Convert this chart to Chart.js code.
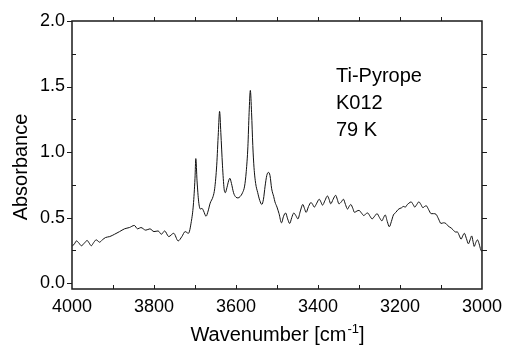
<!DOCTYPE html>
<html>
<head>
<meta charset="utf-8">
<script src="https://cdn.jsdelivr.net/npm/chart.js@4"></script>
<style>
  body { margin: 0; background: #fff; }
  #wrap { width: 509px; height: 345px; position: relative; }
</style>
</head>
<body>
<div id="wrap"><canvas id="spectrum"></canvas></div>
<script>
// IR spectrum (wavenumber in cm-1, absorbance)
const wavenumber = [
    4000, 3994, 3989, 3983, 3977, 3970, 3963, 3958, 3953, 3947, 3941, 3937, 3933, 3926, 3918,
    3908, 3896, 3884, 3872, 3860, 3848, 3840, 3832, 3820, 3810, 3800, 3790, 3782, 3774, 3764,
    3752, 3741, 3732, 3724, 3716, 3709, 3704, 3700, 3698, 3695, 3691, 3687, 3683, 3679, 3673,
    3668, 3663, 3656, 3652, 3647, 3643, 3640, 3637, 3633, 3629, 3626, 3622, 3618, 3615, 3611,
    3606, 3600, 3595, 3590, 3584, 3579, 3575, 3571, 3568, 3565, 3562, 3559, 3556, 3552, 3547,
    3542, 3537, 3533, 3529, 3525, 3521, 3517, 3513, 3508, 3505, 3500, 3495, 3489, 3484, 3479,
    3474, 3469, 3464, 3459, 3454, 3449, 3443, 3437, 3433, 3429, 3423, 3417, 3413, 3409, 3403,
    3397, 3393, 3389, 3383, 3377, 3373, 3369, 3363, 3357, 3353, 3349, 3343, 3338, 3333, 3328,
    3324, 3320, 3315, 3311, 3305, 3300, 3294, 3288, 3284, 3279, 3273, 3268, 3262, 3256, 3250,
    3244, 3240, 3236, 3231, 3226, 3221, 3216, 3210, 3205, 3200, 3196, 3192, 3187, 3182, 3178,
    3173, 3168, 3164, 3159, 3154, 3149, 3144, 3140, 3136, 3130, 3124, 3118, 3112, 3106, 3100,
    3094, 3088, 3084, 3080, 3075, 3070, 3065, 3060, 3055, 3051, 3047, 3043, 3038, 3033, 3029,
    3025, 3022, 3019, 3015, 3011, 3007, 3003, 3000
];
const absorbance = [
    0.28, 0.30, 0.322, 0.305, 0.285, 0.305, 0.325, 0.305, 0.285, 0.31, 0.33, 0.322, 0.312, 0.33, 0.348,
    0.355, 0.373, 0.393, 0.414, 0.424, 0.44, 0.414, 0.424, 0.404, 0.414, 0.393, 0.398, 0.373, 0.398, 0.355,
    0.38, 0.322, 0.355, 0.393, 0.38, 0.469, 0.596, 0.80, 0.95, 0.78, 0.62, 0.565, 0.57, 0.55, 0.51,
    0.55, 0.61, 0.66, 0.72, 0.90, 1.15, 1.31, 1.15, 0.90, 0.72, 0.69, 0.73, 0.78, 0.80, 0.76,
    0.69, 0.655, 0.65, 0.66, 0.69, 0.74, 0.85, 1.04, 1.30, 1.47, 1.30, 1.05, 0.88, 0.76, 0.69,
    0.63, 0.60, 0.64, 0.74, 0.82, 0.845, 0.82, 0.72, 0.66, 0.62, 0.58, 0.53, 0.46, 0.51, 0.535,
    0.49, 0.455, 0.50, 0.535, 0.515, 0.49, 0.55, 0.60, 0.57, 0.54, 0.585, 0.615, 0.60, 0.58, 0.61,
    0.64, 0.62, 0.595, 0.63, 0.665, 0.64, 0.605, 0.64, 0.67, 0.64, 0.605, 0.62, 0.64, 0.60, 0.565,
    0.585, 0.60, 0.57, 0.54, 0.55, 0.555, 0.535, 0.515, 0.527, 0.535, 0.51, 0.49, 0.51, 0.53, 0.50,
    0.475, 0.50, 0.52, 0.47, 0.43, 0.47, 0.52, 0.54, 0.56, 0.57, 0.575, 0.585, 0.58, 0.60, 0.61,
    0.62, 0.60, 0.58, 0.60, 0.62, 0.60, 0.575, 0.585, 0.59, 0.56, 0.53, 0.53, 0.525, 0.49, 0.455,
    0.46, 0.455, 0.44, 0.43, 0.42, 0.405, 0.39, 0.39, 0.36, 0.335, 0.36, 0.38, 0.34, 0.30, 0.33,
    0.36, 0.32, 0.28, 0.31, 0.33, 0.30, 0.254, 0.24
];

const xTickValues = [4000, 3800, 3600, 3400, 3200, 3000];
const xMinorValues = [3900, 3800, 3700, 3600, 3500, 3400, 3300, 3200, 3100];
const yTickValues = [0, 0.5, 1.0, 1.5, 2.0];
const yMinorValues = [0.25, 0.5, 0.75, 1.0, 1.25, 1.5, 1.75];
const sampleLabel = ["Ti-Pyrope", "K012", "79 K"];

const FONT = "'Liberation Sans', Arial, Helvetica, sans-serif";
const INK = "#1a1a1a";

// frame, tick marks in and out of the box, labels that Chart.js can't place the same way
const frameAndText = {
    id: "frameAndText",
    afterDraw(chart) {
        const { ctx, chartArea: a, scales: { x, y } } = chart;
        ctx.save();
        ctx.strokeStyle = INK;
        ctx.lineWidth = 1.5;
        ctx.strokeRect(a.left, a.top, a.right - a.left, a.bottom - a.top);

        ctx.lineWidth = 1;
        ctx.beginPath();
        xMinorValues.forEach(v => {
            const px = Math.round(x.getPixelForValue(v)) + 0.5;
            ctx.moveTo(px, a.bottom); ctx.lineTo(px, a.bottom - 4);
            ctx.moveTo(px, a.top); ctx.lineTo(px, a.top - 4);
        });
        yTickValues.forEach(v => {
            const py = Math.round(y.getPixelForValue(v)) + 0.5;
            ctx.moveTo(a.left, py); ctx.lineTo(a.left - 5, py);
        });
        yMinorValues.forEach(v => {
            const py = Math.round(y.getPixelForValue(v)) + 0.5;
            if (v % 0.5 !== 0) { ctx.moveTo(a.left, py); ctx.lineTo(a.left + 4, py); }
            ctx.moveTo(a.right, py); ctx.lineTo(a.right + 5, py);
        });
        ctx.stroke();

        ctx.fillStyle = "#000";
        ctx.textBaseline = "alphabetic";
        ctx.textAlign = "left";
        ctx.font = "20px " + FONT;
        sampleLabel.forEach((t, i) => ctx.fillText(t, 336, 82 + i * 27));

        // y title
        ctx.save();
        ctx.translate(27, 167);
        ctx.rotate(-Math.PI / 2);
        ctx.textAlign = "center";
        ctx.fillText("Absorbance", 0, 0);
        ctx.restore();

        // x title with superscript
        const main = "Wavenumber [cm", sup = "-1", tail = "]";
        ctx.font = "20px " + FONT;
        const w1 = ctx.measureText(main).width;
        const w3 = ctx.measureText(tail).width;
        ctx.font = "13px " + FONT;
        const w2 = ctx.measureText(sup).width;
        let sx = (a.left + a.right) / 2 - (w1 + w2 + w3) / 2;
        const base = 341;
        ctx.font = "20px " + FONT;
        ctx.fillText(main, sx, base);
        ctx.font = "13px " + FONT;
        ctx.fillText(sup, sx + w1 + 1, base - 8);
        ctx.font = "20px " + FONT;
        ctx.fillText(tail, sx + w1 + w2 + 1, base);
        ctx.restore();
    }
};

const points = wavenumber.map((w, i) => ({ x: w, y: absorbance[i] }));

new Chart(document.getElementById("spectrum"), {
    type: "line",
    data: {
        datasets: [{
            data: points,
            borderColor: "#111",
            borderWidth: 1,
            pointRadius: 0,
            cubicInterpolationMode: "monotone",
            fill: false
        }]
    },
    options: {
        responsive: true,
        maintainAspectRatio: false,
        animation: false,
        layout: { padding: { top: 21, right: 19, left: 0, bottom: 0 } },
        plugins: { legend: { display: false }, tooltip: { enabled: false } },
        scales: {
            x: {
                type: "linear",
                reverse: true,
                min: 3000,
                max: 4000,
                afterBuildTicks: s => { s.ticks = xTickValues.map(v => ({ value: v })); },
                afterFit: s => { s.height = 56; },
                grid: { display: false, drawTicks: false },
                border: { display: false },
                ticks: {
                    padding: 7,
                    color: "#000",
                    font: { family: FONT, size: 18 },
                    callback: v => String(v)
                }
            },
            y: {
                min: -0.045,
                max: 2.0,
                afterBuildTicks: s => { s.ticks = yTickValues.map(v => ({ value: v })); },
                afterFit: s => { s.width = 72; },
                grid: { display: false, drawTicks: false },
                border: { display: false },
                ticks: {
                    padding: 7,
                    color: "#000",
                    font: { family: FONT, size: 18 },
                    callback: v => v.toFixed(1)
                }
            }
        }
    },
    plugins: [frameAndText]
});
</script>
</body>
</html>
